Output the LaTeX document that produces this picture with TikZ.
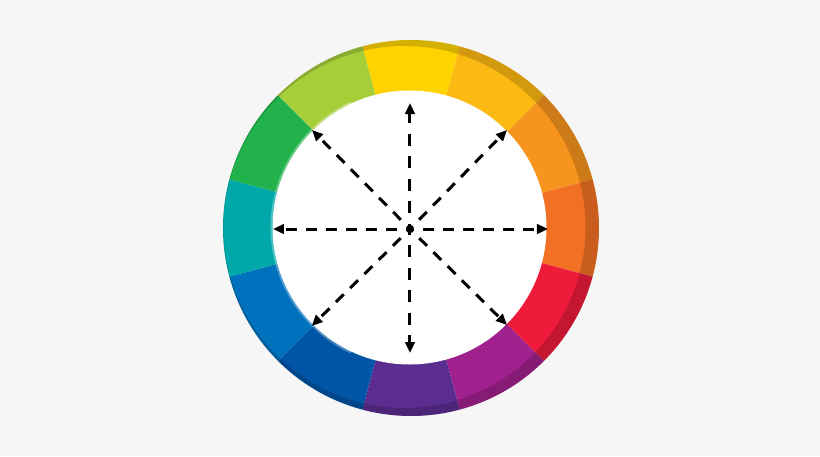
\documentclass[tikz,border=0pt]{standalone}
\usetikzlibrary{arrows.meta}
\definecolor{bgcol}{HTML}{F6F6F6}
\definecolor{wheelYellow}{HTML}{FED300}
\definecolor{wheelAmber}{HTML}{FDB913}
\definecolor{wheelOrange}{HTML}{F7941E}
\definecolor{wheelRedOrange}{HTML}{F17023}
\definecolor{wheelRed}{HTML}{EE1B3B}
\definecolor{wheelMagenta}{HTML}{A0218D}
\definecolor{wheelPurple}{HTML}{5C2D91}
\definecolor{wheelNavy}{HTML}{0055A6}
\definecolor{wheelBlue}{HTML}{0071BC}
\definecolor{wheelTeal}{HTML}{00A8AA}
\definecolor{wheelGreen}{HTML}{22B24C}
\definecolor{wheelLime}{HTML}{A6CE39}
\begin{document}
\begin{tikzpicture}[x=1pt,y=1pt,
    spoke/.style={line width=3pt, dash pattern=on 11pt off 9pt, dash phase=7pt,
        -{Triangle[length=11pt,width=9.5pt]}},
    upright/.style={dash pattern=on 12pt off 10.5pt, dash phase=6.5pt}]
    % Background
    \fill[bgcol] (-409.5,-228.5) rectangle (410.5,227.5);
    \useasboundingbox (-409.5,-228.5) rectangle (410.5,227.5);
    % Centre of the coloured ring and of the spokes
    \coordinate (rim) at (1.5,-0.5);
    \coordinate (hub) at (0.5,-1.5);
    % Twelve colour segments, yellow on top, going clockwise
    \fill[wheelYellow] (rim) -- +(75:188pt) arc[start angle=75, end angle=105, radius=188pt] -- cycle;
    \fill[wheelAmber] (rim) -- +(45:188pt) arc[start angle=45, end angle=75, radius=188pt] -- cycle;
    \fill[wheelOrange] (rim) -- +(15:188pt) arc[start angle=15, end angle=45, radius=188pt] -- cycle;
    \fill[wheelRedOrange] (rim) -- +(-15:188pt) arc[start angle=-15, end angle=15, radius=188pt] -- cycle;
    \fill[wheelRed] (rim) -- +(-45:188pt) arc[start angle=-45, end angle=-15, radius=188pt] -- cycle;
    \fill[wheelMagenta] (rim) -- +(-75:188pt) arc[start angle=-75, end angle=-45, radius=188pt] -- cycle;
    \fill[wheelPurple] (rim) -- +(-105:188pt) arc[start angle=-105, end angle=-75, radius=188pt] -- cycle;
    \fill[wheelNavy] (rim) -- +(-135:188pt) arc[start angle=-135, end angle=-105, radius=188pt] -- cycle;
    \fill[wheelBlue] (rim) -- +(-165:188pt) arc[start angle=-165, end angle=-135, radius=188pt] -- cycle;
    \fill[wheelTeal] (rim) -- +(165:188pt) arc[start angle=165, end angle=195, radius=188pt] -- cycle;
    \fill[wheelGreen] (rim) -- +(135:188pt) arc[start angle=135, end angle=165, radius=188pt] -- cycle;
    \fill[wheelLime] (rim) -- +(105:188pt) arc[start angle=105, end angle=135, radius=188pt] -- cycle;
    % Darker edge on the right, as a crescent
    \fill[black, opacity=0.17, even odd rule] (rim) circle (188pt) (-5,0.5) circle (181pt);
    % White centre with a soft left edge
    \fill[white] (0,0) circle (137pt);
    \draw[white, opacity=0.3, line width=2pt] (115:138pt) arc[start angle=115, end angle=245, radius=138pt];
    % Arrow ends
    \coordinate (tipN) at (0.5,124.5);
    \coordinate (tipS) at (0.5,-125.5);
    \coordinate (tipW) at (-136.5,-1.5);
    \coordinate (tipE) at (138.5,-1.5);
    \coordinate (tipNW) at (-97.5,97.5);
    \coordinate (tipNE) at (97.5,97.5);
    \coordinate (tipSW) at (-97.8,-98.5);
    \coordinate (tipSE) at (97.5,-97.5);
    % Dashed arrows from the centre
    \draw[spoke, upright] (hub) -- (tipN);
    \draw[spoke, upright] (hub) -- (tipS);
    \draw[spoke] (hub) -- (tipW);
    \draw[spoke] (hub) -- (tipE);
    \draw[spoke] (hub) -- (tipNW);
    \draw[spoke] (hub) -- (tipNE);
    \draw[spoke] (hub) -- (tipSW);
    \draw[spoke] (hub) -- (tipSE);
\end{tikzpicture}
\end{document}
